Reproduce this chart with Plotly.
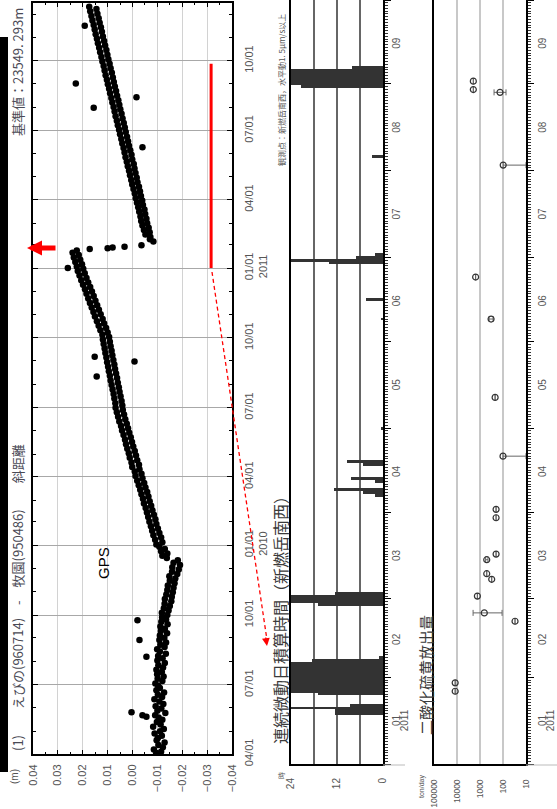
import plotly.graph_objects as go
import pandas as pd

W, H = 557, 809

# ---------------- GPS (slope distance, mm) ----------------
GPS_SEG1_START = "2009-04-01"
GPS_SEG1_MM = [
    -9.5, -11.5, -8.6, -12.2, -10.4, -12.9, -9.7, -10.2, -11.8, -8.9, -11.1, -12.6, -8.3, -11.3, -9.8, -12.0,
    -10.5, -9.1, -13.2, -10.0, -11.6, -9.3, -12.4, -10.8, -8.8, -11.9, -10.2, -12.7, -9.6, -11.0, -10.3,
    -9.2, -12.0, -10.1, -12.5, -9.9, -11.8, -9.6, -12.3, -10.4, -13.0, -10.0, -12.1, -10.3, -13.4, -11.0, -9.9,
    -12.9, -11.2, -13.5, -10.8, -12.8, -11.0, -13.9, -11.4, -13.0, -11.2, -14.1, -11.6, -13.5, -11.9, -14.0,
    -11.8, -14.5, -12.6, -15.0, -12.9, -15.6, -13.0, -15.8, -13.6, -16.2, -14.0, -16.5, -14.2, -16.9, -15.0,
    -17.2, -14.8, -18.0, -15.9, -18.6, -16.0, -19.1, -16.5, -18.2,
    -13.8, -12.0, -14.0, -11.5, -13.0, -10.8,
    -9.6, -12.0, -9.1, -11.5, -8.4, -10.8, -7.9, -10.2, -7.4, -9.6, -6.8, -9.2, -6.3, -8.6, -5.8, -8.0,
    -5.3, -7.5, -4.6, -6.9, -4.2, -6.4, -3.6, -5.9, -3.1, -5.2, -2.5, -4.7, -1.9, -4.0,
    -1.2, -3.6, -0.9, -2.8, 0.1, -2.6, 0.4, -1.9, 1.1, -1.4, 1.5, -0.9, 2.1, -0.3, 2.6, 0.2,
    3.0, 0.7, 3.6, 1.3, 4.2, 1.8, 4.6, 2.3, 5.3, 2.9, 5.8, 3.4, 6.3, 3.9, 6.8,
    4.1, 6.9, 4.4, 7.3, 4.8, 7.6, 5.2, 8.0, 5.5, 8.4, 5.9, 8.8, 6.2, 9.1, 6.6, 9.5,
    7.0, 9.8, 7.3, 10.2, 7.7, 10.5, 8.1, 10.9, 8.4, 11.2, 8.8, 11.6, 9.1, 11.9,
    9.4, 12.1, 10.0, 12.9, 10.6, 13.6, 11.4, 14.3, 12.0, 15.1, 12.8, 15.7, 13.5, 16.4, 14.2, 17.1,
    14.9, 17.8, 15.6, 18.5, 16.3, 19.1, 17.0, 19.9, 17.8, 20.6, 18.5, 21.3, 19.2, 22.0, 19.8,
    22.4, 20.3, 23.0, 21.0, 23.6, 21.6, 24.1, 22.4,
]
GPS_SEG2_START = "2011-02-05"
GPS_SEG2_MM = [
    -8.4, -7.0, -7.2,
    -5.2, -6.9, -4.6, -6.5, -4.0, -5.9, -3.5, -5.6, -3.2, -5.1,
    -2.7, -4.8, -2.3, -4.2, -1.8, -3.9, -1.3, -3.4, -0.9, -3.0,
    -0.4, -2.6, 0.1, -2.0, 0.5, -1.7, 1.0, -1.2, 1.4, -0.8,
    1.9, -0.5, 2.3, 0.1, 2.8, 0.4, 3.2, 0.9, 3.6, 1.4,
    4.1, 1.8, 4.5, 2.2, 5.0, 2.7, 5.4, 3.1, 5.9, 3.5,
    6.3, 4.0, 6.8, 4.4, 7.2, 4.9, 7.6, 5.3, 8.1, 5.7,
    8.5, 6.2, 9.0, 6.6, 9.4, 7.1, 9.9, 7.5, 10.3, 7.9,
    10.8, 8.3, 11.2, 8.8, 11.6, 9.2, 12.1, 9.7, 12.5, 10.1,
    13.0, 10.5, 13.4, 11.0, 13.9, 11.4, 14.3, 11.9, 14.8, 12.3,
    15.2, 12.7, 15.6, 13.2, 16.1, 13.6, 16.5, 14.1, 17.0, 14.5,
    17.4,
]
GPS_DROP_DATES = ["2011-01-26", "2011-01-27", "2011-01-28", "2011-01-29", "2011-01-31"]
GPS_DROP_MM = [17.2, 10.0, 8.0, 3.2, -3.6]
GPS_OUT_DATES = ["2009-05-20", "2009-05-22", "2009-05-26", "2009-08-07", "2009-08-29", "2009-09-24",
                 "2010-08-11", "2010-08-31", "2010-09-06", "2011-01-01", "2011-06-09", "2011-07-31",
                 "2011-08-14", "2011-09-01", "2011-11-16"]
GPS_OUT_MM = [-5.6, -4.0, 0.4, -5.6, -2.8, -2.0, 14.4, -0.8, 15.2, 26.0, -4.0, 15.6, -1.6, 22.8, 19.2]

GPS_TICK_DATES = ["2009-04-01", "2009-07-01", "2009-10-01", "2010-01-01", "2010-04-01", "2010-07-01",
                  "2010-10-01", "2011-01-01", "2011-04-01", "2011-07-01", "2011-10-01"]
GPS_TICK_TEXT = ["04/01", "07/01", "10/01", "01/01<br>2010", "04/01", "07/01",
                 "10/01", "01/01<br>2011", "04/01", "07/01", "10/01"]
GPS_VAL_TICKS = [0.04, 0.03, 0.02, 0.01, 0.0, -0.01, -0.02, -0.03, -0.04]
GPS_VAL_TEXT = ["0.04", "0.03", "0.02", "0.01", "0.00", "\u22120.01", "\u22120.02", "\u22120.03", "\u22120.04"]

# ---------------- Tremor daily hours (2011) ----------------
TREMOR_DATES = ["2011-01-19", "2011-01-20", "2011-01-21", "2011-01-22", "2011-01-26",
                "2011-01-27", "2011-01-28", "2011-01-29", "2011-01-30", "2011-01-31", "2011-02-01",
                "2011-02-02", "2011-02-03", "2011-02-04", "2011-02-05", "2011-02-06", "2011-02-07",
                "2011-02-08", "2011-02-27", "2011-02-28", "2011-03-01", "2011-03-02", "2011-03-03",
                "2011-04-07", "2011-04-08", "2011-04-09", "2011-04-12", "2011-04-13", "2011-04-18",
                "2011-04-19", "2011-05-01", "2011-06-09", "2011-06-16", "2011-06-29", "2011-06-30",
                "2011-07-01", "2011-07-02", "2011-08-06", "2011-08-31", "2011-09-01", "2011-09-02",
                "2011-09-03", "2011-09-04", "2011-09-05", "2011-09-06", "2011-09-07"]
TREMOR_HOURS = [12.5, 12.5, 24, 8.5, 17,
                24, 24, 24, 24, 24, 24,
                24, 24, 24, 24, 24, 18.5,
                1, 17, 24, 24, 24, 12.5,
                2, 5.2, 12.8, 2, 8.3, 5.2,
                9.4, 0.5, 0.5, 4.4, 14, 24,
                7, 2, 3, 21.5, 24, 24,
                24, 24, 24, 24, 8]
HOUR_TICKS = [24, 18, 12, 6, 0]
HOUR_TEXT = ["24", "", "12", "", "0"]

# ---------------- SO2 emission (ton/day) ----------------
SO2_DATES = ["2011-01-27", "2011-01-30", "2011-02-21", "2011-02-24", "2011-03-02", "2011-03-08",
             "2011-03-10", "2011-03-15", "2011-03-17", "2011-03-30", "2011-04-02", "2011-04-21",
             "2011-05-12", "2011-06-09", "2011-06-24", "2011-08-03", "2011-08-29", "2011-08-30",
             "2011-09-02"]
SO2_VALUES = [12000, 12000, 30, 650, 1300, 310, 510, 510, 200, 200, 200, 100,
              220, 330, 1550, 98, 135, 1950, 1950]
SO2_ERR_PLUS = [0, 0, 0, 1350, 0, 0, 0, 60, 0, 0, 0, 0, 0, 70, 0, 0, 110, 0, 0]
SO2_ERR_MINUS = [0, 0, 0, 540, 0, 0, 0, 60, 0, 0, 0, 90, 0, 60, 0, 88, 61, 0, 0]
SO2_TICKS = [100000, 10000, 1000, 100, 10]
SO2_TEXT = ["100000", "10000", "1000", "100", "10"]

MONTH_STARTS = ["2011-01-01", "2011-02-01", "2011-03-01", "2011-04-01", "2011-05-01", "2011-06-01",
                "2011-07-01", "2011-08-01", "2011-09-01", "2011-10-01"]
MONTH_MIDS = ["2011-01-16", "2011-02-14", "2011-03-16", "2011-04-15", "2011-05-16", "2011-06-15",
              "2011-07-16", "2011-08-16", "2011-09-15"]
MONTH_TEXT = ["01", "02", "03", "04", "05", "06", "07", "08", "09"]
YEAR_MID = ["2011-01-16"]
YEAR_TEXT = ["2011"]


def px(x):
    return x / W


def py(y):
    return 1 - y / H


NUMF = "Liberation Sans, Arial, sans-serif"
JPF = "Noto Sans CJK JP, sans-serif"
GRAYTXT = "#555555"

seg1_dates = pd.date_range(GPS_SEG1_START, periods=len(GPS_SEG1_MM), freq="3D")
seg2_dates = pd.date_range(GPS_SEG2_START, periods=len(GPS_SEG2_MM), freq="3D")

fig = go.Figure()
dot = dict(size=6.5, color="black")
for d, v in [(seg1_dates, GPS_SEG1_MM), (seg2_dates, GPS_SEG2_MM),
             (pd.to_datetime(GPS_DROP_DATES), GPS_DROP_MM), (pd.to_datetime(GPS_OUT_DATES), GPS_OUT_MM)]:
    fig.add_trace(go.Scatter(x=[m / 1000 for m in v], y=d, mode="markers", marker=dot,
                             xaxis="x", yaxis="y", showlegend=False, hoverinfo="skip"))

fig.add_trace(go.Bar(x=TREMOR_HOURS, y=pd.to_datetime(TREMOR_DATES), orientation="h",
                     width=86400000, marker=dict(color="#333333", line=dict(width=0)),
                     xaxis="x2", yaxis="y2", showlegend=False))

fig.add_trace(go.Scatter(x=SO2_VALUES, y=pd.to_datetime(SO2_DATES), mode="markers",
                         marker=dict(symbol="circle-open", size=6, color="#333333", line=dict(width=1.2)),
                         error_x=dict(type="data", symmetric=False, array=SO2_ERR_PLUS,
                                      arrayminus=SO2_ERR_MINUS, color="#666666", thickness=1, width=3),
                         xaxis="x3", yaxis="y3", showlegend=False))

# dummy traces for label overlay axes
for xa, ya in [("x2", "y4"), ("x3", "y5"), ("x2", "y6"), ("x3", "y7")]:
    fig.add_trace(go.Scatter(x=[None], y=[None], xaxis=xa, yaxis=ya, showlegend=False))

top_dom = [py(764), 1.0]
mid_y = dict(type="date", range=["2011-01-01", "2011-10-01"], side="right", automargin=False,
             tickmode="array", tickvals=MONTH_STARTS, ticks="outside", ticklen=6, tickwidth=1,
             tickcolor="black", showticklabels=False, showline=True, linecolor="black", linewidth=2,
             mirror=True, showgrid=False, zeroline=False,
             minor=dict(tickmode="linear", tick0="2011-01-01", dtick=86400000, ticks="outside",
                        ticklen=2.5, tickcolor="#333", showgrid=False))
lab_y = dict(type="date", range=["2011-01-01", "2011-10-01"], side="right", tickmode="array",
             automargin=False, ticks="", tickangle=-90, showgrid=False,
             showline=False, zeroline=False, tickfont=dict(family=NUMF, size=10, color=GRAYTXT))

fig.update_layout(
    width=W, height=H, margin=dict(l=0, r=0, t=0, b=0, autoexpand=False),
    paper_bgcolor="white", plot_bgcolor="white", bargap=0,
    xaxis=dict(domain=[px(33), px(232)], anchor="y", range=[0.04, -0.04], tickmode="array",
               automargin=False,
               tickvals=GPS_VAL_TICKS, ticktext=GPS_VAL_TEXT, tickangle=-90, ticks="inside",
               ticklen=4, tickcolor="black", showline=True, linecolor="black", linewidth=2,
               mirror="ticks", showgrid=True, gridcolor="#d2d2d2", gridwidth=1, zeroline=False,
               ticklabelstandoff=4,
               tickfont=dict(family=NUMF, size=11, color=GRAYTXT),
               minor=dict(tickmode="linear", tick0=0, dtick=0.005, ticks="inside", ticklen=2,
                          tickcolor="black", showgrid=False)),
    yaxis=dict(domain=[py(754), py(3)], anchor="x", type="date", range=["2009-04-01", "2011-12-16"],
               automargin=False,
               side="right", tickmode="array", tickvals=GPS_TICK_DATES, ticktext=GPS_TICK_TEXT,
               tickangle=-90, ticks="inside", ticklen=5, tickcolor="black", showline=True,
               linecolor="black", linewidth=2, mirror="ticks", showgrid=True, gridcolor="#a8a8a8",
               gridwidth=1, zeroline=False, ticklabelstandoff=6,
               tickfont=dict(family=NUMF, size=11, color=GRAYTXT),
               minor=dict(tickmode="linear", tick0="2009-04-01", dtick="M1", ticks="inside",
                          ticklen=3, tickcolor="black", showgrid=False)),
    xaxis2=dict(domain=[px(291), px(383)], anchor="y2", range=[24, 0], tickmode="array",
                automargin=False,
                tickvals=HOUR_TICKS, ticktext=HOUR_TEXT, tickangle=-90, ticks="",
                showline=True, linecolor="black", linewidth=2, mirror=False, showgrid=True,
                gridcolor="#666666", gridwidth=1.5, zeroline=False, ticklabelstandoff=8,
                tickfont=dict(family=NUMF, size=10, color=GRAYTXT)),
    yaxis2=dict(domain=top_dom, anchor="x2", **mid_y),
    yaxis4=dict(overlaying="y2", anchor="x2", ticklabelstandoff=6, tickvals=MONTH_MIDS,
                ticktext=MONTH_TEXT, **lab_y),
    yaxis6=dict(overlaying="y2", anchor="x2", ticklabelstandoff=14, tickvals=YEAR_MID,
                ticktext=YEAR_TEXT, **lab_y),
    xaxis3=dict(domain=[px(434), px(526)], anchor="y3", type="log", range=[5, 1], tickmode="array",
                automargin=False,
                tickvals=SO2_TICKS, ticktext=SO2_TEXT, tickangle=-90, ticks="", showline=True,
                linecolor="black", linewidth=2, mirror=False, showgrid=True, gridcolor="#c8c8c8",
                gridwidth=2, zeroline=False, ticklabelstandoff=10,
                tickfont=dict(family=NUMF, size=8.5, color=GRAYTXT)),
    yaxis3=dict(domain=top_dom, anchor="x3", **mid_y),
    yaxis5=dict(overlaying="y3", anchor="x3", ticklabelstandoff=9, tickvals=MONTH_MIDS,
                ticktext=MONTH_TEXT, **lab_y),
    yaxis7=dict(overlaying="y3", anchor="x3", ticklabelstandoff=17, tickvals=YEAR_MID,
                ticktext=YEAR_TEXT, **lab_y),
)

shapes = [
    dict(type="rect", xref="paper", yref="paper", x0=0, x1=px(8), y0=py(772), y1=py(37),
         fillcolor="black", line=dict(width=0), layer="above"),
    dict(type="line", xref="x", yref="y", x0=-0.0316, x1=-0.0316, y0="2011-01-01", y1="2011-09-27",
         line=dict(color="red", width=3)),
    dict(type="line", xref="paper", yref="paper", x0=px(212), y0=py(272), x1=px(267), y1=py(640),
         line=dict(color="red", width=1.3, dash="4px,3px")),
    dict(type="line", xref="paper", yref="paper", x0=px(383), y0=py(765), x1=px(405), y1=py(765),
         line=dict(color="#bbbbbb", width=1)),
    dict(type="line", xref="paper", yref="paper", x0=px(526), y0=py(765), x1=px(557), y1=py(765),
         line=dict(color="#bbbbbb", width=1)),
]
fig.update_layout(shapes=shapes)


def label(text, x, y, size, color="#444444", family=JPF):
    fig.add_annotation(text=text, x=px(x), y=py(y), xref="paper", yref="paper", showarrow=False,
                       textangle=-90, xanchor="center", yanchor="middle",
                       font=dict(family=family, size=size, color=color))


label("(1)\u3000\u3000えびの(960714)\u3000-\u3000牧園(950486)\u3000\u3000斜距離", 17, 598, 13, "#4a4a55")
label("基準値：23549. 293m", 17, 72, 13, "#4a4a55")
label("(m)", 14, 777, 10, GRAYTXT, NUMF)
label("GPS", 103, 563, 15, "black", "Liberation Sans, Arial, sans-serif")
label("時", 281, 776, 7, GRAYTXT)
label("連続微動日積算時間（新燃岳南西）", 280, 616, 16, "#3a3a3a")
label("観測点：新燃岳南西，水平動1. 5μm/s以上", 281, 90, 8, "#555555")
label("二酸化硫黄放出量", 425, 675, 15, "#3a3a3a")
label("ton/day", 422, 787, 7, GRAYTXT, NUMF)

# red arrows
fig.add_annotation(x=px(27), y=py(248), xref="paper", yref="paper", ax=30, ay=0, text="",
                   showarrow=True, arrowhead=2, arrowsize=0.6, arrowwidth=5, arrowcolor="red")
fig.add_annotation(x=px(267), y=py(646), xref="paper", yref="paper", ax=-1.5, ay=-10, text="",
                   showarrow=True, arrowhead=2, arrowsize=1.2, arrowwidth=1.3, arrowcolor="red")

fig.write_html("out.html", config={"displayModeBar": False},
               post_script="document.body.style.margin='0px';document.body.style.overflow='hidden';")
